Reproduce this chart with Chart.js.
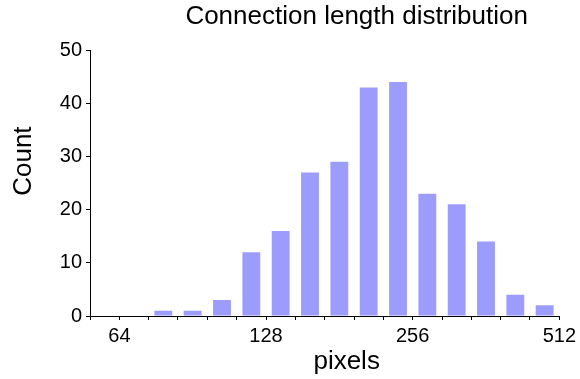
<!DOCTYPE html>
<html>
<head>
<meta charset="utf-8">
<title>Connection length distribution</title>
<script src="https://cdn.jsdelivr.net/npm/chart.js@4/dist/chart.umd.min.js"></script>
<style>
  html, body { margin: 0; padding: 0; background: #fff; }
  .chart-box { width: 580px; height: 379px; }
</style>
</head>
<body>
<div class="chart-box"><canvas id="length-chart"></canvas></div>
<script>
// bin edges in pixels, five bins per octave (55.7 ... 512)
const binEdges = [55.7, 64, 73.5, 84.4, 97.0, 111.4, 128, 147.0, 168.9, 194.0, 222.9, 256, 294.1, 337.8, 388.0, 445.7, 512];
// count per bin
const counts = [0, 0, 1, 1, 3, 12, 16, 27, 29, 43, 44, 23, 21, 14, 4, 2];
const xTickLabels = [64, 128, 256, 512];
const yTickLabels = [0, 10, 20, 30, 40, 50];

const fontFamily = '"Liberation Sans", Arial, Helvetica, sans-serif';

// bars sit in the middle of each (log) bin
const barData = counts.map((c, i) => ({ x: Math.sqrt(binEdges[i] * binEdges[i + 1]), y: c }));

// the original plot has its titles a bit off-centre, nudge them the same way
const titleShift = {
  id: 'titleShift',
  afterLayout(chart) {
    const t = chart.titleBlock;
    if (t) {
      t.left = chart.chartArea.left + 64;
      t.right = chart.chartArea.right;
    }
    const shifts = { x: [22, 0], y: [0, -22] };
    Object.keys(shifts).forEach(id => {
      const scale = chart.scales[id];
      if (!scale || scale._titleShifted) return;
      const drawTitle = scale.drawTitle.bind(scale);
      scale.drawTitle = function () {
        const c = scale.ctx;
        c.save();
        c.translate(shifts[id][0], shifts[id][1]);
        drawTitle();
        c.restore();
      };
      scale._titleShifted = true;
    });
  }
};

const ctx = document.getElementById('length-chart').getContext('2d');
new Chart(ctx, {
  type: 'bar',
  data: {
    datasets: [{
      label: 'Count',
      data: barData,
      backgroundColor: 'rgb(156, 156, 252)',
      borderWidth: 0,
      barPercentage: 0.61,
      categoryPercentage: 1
    }]
  },
  options: {
    responsive: true,
    maintainAspectRatio: false,
    animation: false,
    layout: { padding: { top: 0, right: 3, bottom: 0, left: 0 } },
    plugins: {
      legend: { display: false },
      tooltip: { enabled: false },
      title: {
        display: true,
        text: 'Connection length distribution',
        color: '#000',
        font: { family: fontFamily, size: 26, weight: 'normal' },
        padding: { top: 1, bottom: 18 }
      }
    },
    scales: {
      x: {
        type: 'logarithmic',
        min: binEdges[0],
        max: binEdges[binEdges.length - 1],
        offset: false,
        afterBuildTicks: scale => {
          scale.ticks = binEdges.map(v => ({ value: v }));
        },
        afterFit: scale => { scale.height = 63; },
        ticks: {
          autoSkip: false,
          maxRotation: 0,
          padding: 4,
          color: '#000',
          font: { family: fontFamily, size: 20 },
          callback: value => xTickLabels.includes(value) ? String(value) : ''
        },
        grid: {
          offset: false,
          drawOnChartArea: false,
          tickLength: 4,
          color: '#000'
        },
        border: { display: true, color: '#000', width: 1 },
        title: {
          display: true,
          text: 'pixels',
          color: '#000',
          font: { family: fontFamily, size: 26 },
          padding: { top: 0, bottom: 2 }
        }
      },
      y: {
        min: 0,
        max: 50,
        afterFit: scale => { scale.width = 90; },
        ticks: {
          stepSize: 5,
          padding: 4,
          color: '#000',
          font: { family: fontFamily, size: 20 },
          callback: value => yTickLabels.includes(value) ? String(value) : ''
        },
        grid: {
          drawOnChartArea: false,
          tickLength: 4,
          color: '#000'
        },
        border: { display: true, color: '#000', width: 1 },
        title: {
          display: true,
          text: 'Count',
          color: '#000',
          font: { family: fontFamily, size: 26 },
          padding: { top: 8, bottom: 0 }
        }
      }
    }
  },
  plugins: [titleShift]
});
</script>
</body>
</html>
